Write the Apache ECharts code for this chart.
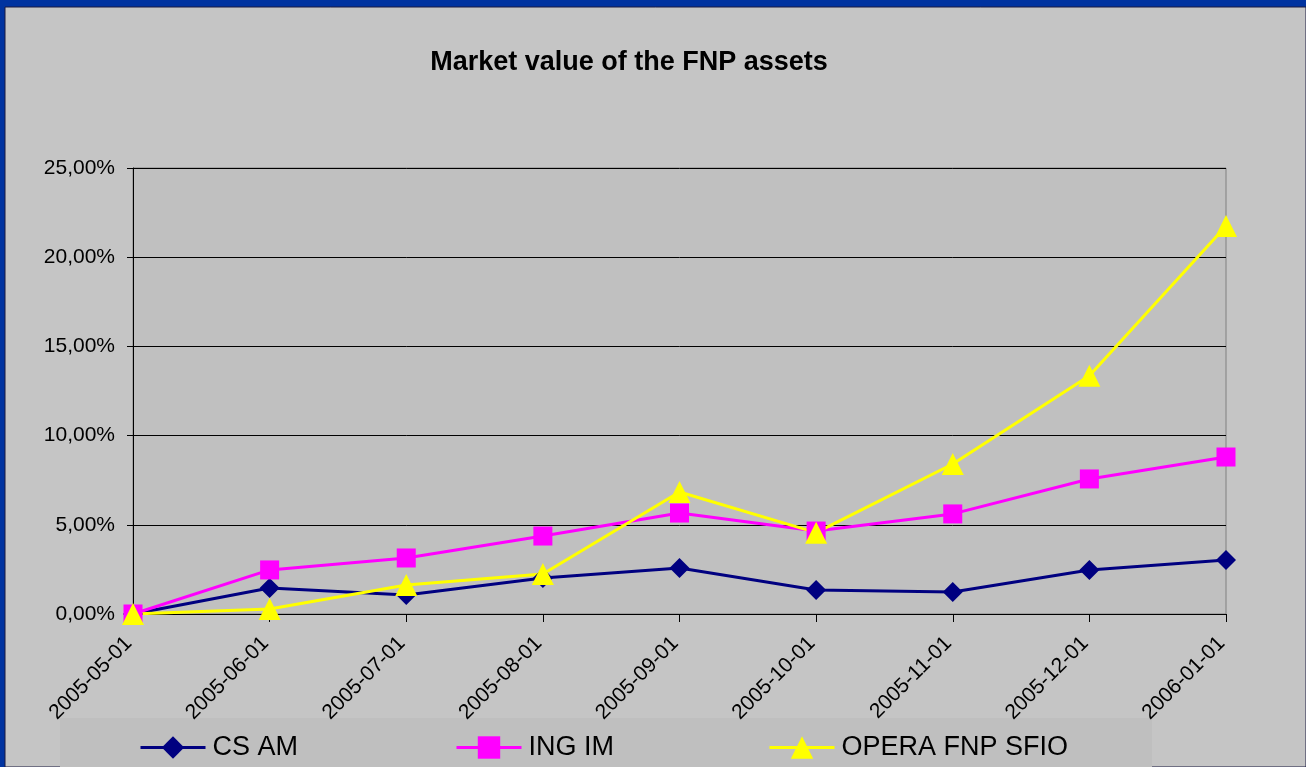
<!DOCTYPE html>
<html>
<head>
<meta charset="utf-8">
<script src="https://cdn.jsdelivr.net/npm/echarts@6/dist/echarts.min.js"></script>
<style>
	html, body { margin: 0; padding: 0; background: #0033a0; }
	#chart { width: 1306px; height: 767px; }
</style>
</head>
<body>
<div id="chart"></div>
<script type="text/javascript">
	// data (percent)
	var months = ['2005-05-01', '2005-06-01', '2005-07-01', '2005-08-01', '2005-09-01',
		'2005-10-01', '2005-11-01', '2005-12-01', '2006-01-01'];
	var csAm = [0, 1.46, 1.07, 2.02, 2.58, 1.35, 1.23, 2.47, 3.03];
	var ingIm = [0, 2.47, 3.14, 4.37, 5.66, 4.65, 5.61, 7.57, 8.80];
	var opera = [0, 0.28, 1.63, 2.24, 6.84, 4.56, 8.41, 13.35, 21.75];
	var yTicks = [0, 5, 10, 15, 20, 25];

	var myChart = echarts.init(document.getElementById('chart'));

	function legendAt(left, name) {
		return {
			left: left,
			top: 734,
			itemWidth: 65,
			itemHeight: 28,
			itemGap: 0,
			padding: 0,
			data: [name],
			lineStyle: { width: 3 },
			textStyle: { fontFamily: 'Liberation Sans, Arial', fontSize: 27, color: '#000', padding: [0, 0, 0, 2] }
		};
	}

	function lineSeries(name, data, color, symbol, size) {
		return {
			name: name,
			type: 'line',
			data: data,
			symbol: symbol,
			symbolSize: size,
			lineStyle: { color: color, width: 3 },
			itemStyle: { color: color },
			emphasis: { disabled: true }
		};
	}

	var option = {
		animation: false,
		backgroundColor: 'transparent',
		graphic: [
			{ type: 'rect', shape: { x: 5, y: 7, width: 1301, height: 760 },
				style: { fill: '#c5c5c5', stroke: '#1a1a40', lineWidth: 1 }, z: -10 },
			{ type: 'rect', shape: { x: 60, y: 718, width: 1092, height: 49 },
				style: { fill: '#bfbfbf' }, z: -9 }
		],
		title: {
			text: 'Market value of the FNP assets',
			left: 624,
			top: 44,
			textAlign: 'center',
			textStyle: { fontFamily: 'Liberation Sans, Arial', fontSize: 27, fontWeight: 'bold', color: '#000' }
		},
		legend: [
			legendAt(139, 'CS AM'),
			legendAt(455, 'ING IM'),
			legendAt(768, 'OPERA FNP SFIO')
		],
		grid: {
			left: 133,
			right: 80,
			top: 168,
			bottom: 153,
			show: true,
			backgroundColor: '#c0c0c0',
			borderColor: '#808080',
			borderWidth: 1
		},
		xAxis: {
			type: 'category',
			data: months,
			boundaryGap: false,
			axisLine: { lineStyle: { color: '#000', width: 1 } },
			axisTick: { show: true, length: 8, lineStyle: { color: '#000' }, interval: 0 },
			axisLabel: {
				rotate: 45,
				interval: 0,
				margin: 22,
				padding: [0, 6, 0, 0],
				fontFamily: 'Liberation Sans, Arial',
				fontSize: 21,
				color: '#000'
			}
		},
		yAxis: {
			type: 'value',
			min: yTicks[0],
			max: yTicks[yTicks.length - 1],
			interval: 5,
			axisLine: { show: true, lineStyle: { color: '#000', width: 1 } },
			axisTick: { show: true, length: 6, lineStyle: { color: '#000' } },
			splitLine: { lineStyle: { color: '#000', width: 1 } },
			axisLabel: {
				margin: 18,
				fontFamily: 'Liberation Sans, Arial',
				fontSize: 21,
				color: '#000',
				formatter: function (v) {
					return v.toFixed(2).replace('.', ',') + '%';
				}
			}
		},
		series: [
			lineSeries('CS AM', csAm, '#000080', 'diamond', 20),
			lineSeries('ING IM', ingIm, '#ff00ff', 'rect', 19),
			lineSeries('OPERA FNP SFIO', opera, '#ffff00', 'triangle', 22)
		]
	};
	myChart.setOption(option);
</script>
</body>
</html>
